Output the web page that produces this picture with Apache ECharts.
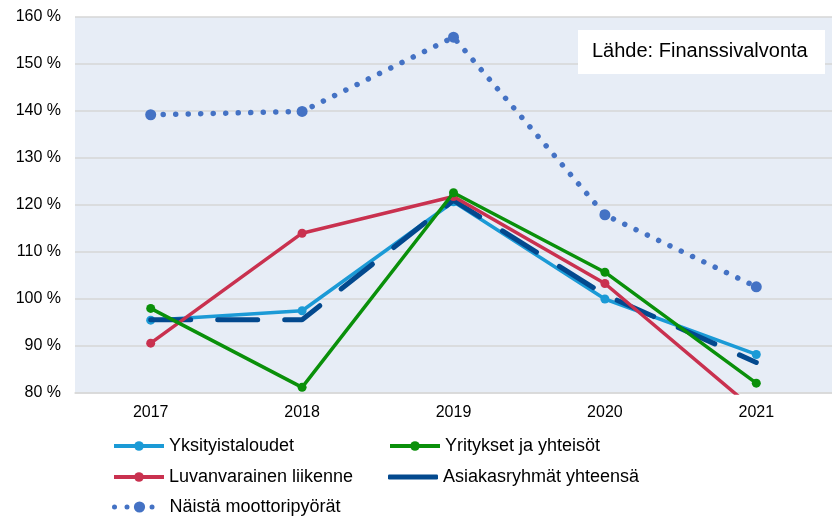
<!DOCTYPE html>
<html>
<head>
<meta charset="utf-8">
<script src="https://cdn.jsdelivr.net/npm/echarts@6/dist/echarts.min.js"></script>
<style>
  html, body { margin: 0; padding: 0; background: #fff; }
  #chart { width: 832px; height: 517px; }
</style>
</head>
<body>
<div id="chart"></div>
<script>
window.addEventListener('load', function () {

    // vuodet
    const years = ['2017', '2018', '2019', '2020', '2021'];

    // sarjat (%)
    const yksityis = [95.5, 97.5, 120.7, 100.0, 88.2];
    const yritykset = [98.0, 81.2, 122.6, 105.7, 82.1];
    const luvanvarainen = [90.6, 114.0, 121.8, 103.3, 76.1];
    const yhteensa = [95.6, 95.6, 121.0, 100.9, 86.5];
    const moottoripyorat = [139.2, 139.9, 155.7, 117.9, 102.6];

    const names = ['Yksityistaloudet', 'Yritykset ja yhteisöt', 'Luvanvarainen liikenne',
        'Asiakasryhmät yhteensä', 'Näistä moottoripyörät'];
    const colors = ['#1b9ad6', '#0a900a', '#c9314f', '#03498e', '#4472c4'];

    let myChart = echarts.init(document.querySelector('#chart'));

    const font = 'Arial, "Liberation Sans", sans-serif';

    // legenda: yksi komponentti per rivi/sarake
    function legendItem(name, left, top, lineWidth, itemHeight, icon) {
        let l = {
            data: [name],
            left: left,
            top: top,
            orient: 'horizontal',
            itemWidth: 50,
            itemHeight: itemHeight,
            itemGap: 0,
            padding: 0,
            selectedMode: false,
            lineStyle: { width: lineWidth },
            textStyle: { fontSize: 18, color: '#000', fontFamily: font }
        };
        if (icon) l.icon = icon;
        return l;
    }

    let option = {
        backgroundColor: '#fff',
        animation: false,
        grid: {
            left: 75,
            right: -11,
            top: 17,
            bottom: 124,
            show: true,
            backgroundColor: '#e7edf6',
            borderWidth: 0
        },
        legend: [
            legendItem(names[0], 112, 437, 4, 12),
            legendItem(names[1], 388, 437, 4, 12),
            legendItem(names[2], 112, 468, 4, 12),
            legendItem(names[3], 388, 468, 5, 5, 'roundRect'),
            legendItem(names[4], 112, 498, 5, 14)
        ],
        xAxis: {
            type: 'category',
            data: years,
            boundaryGap: true,
            axisTick: { show: false },
            axisLine: { show: true, lineStyle: { color: '#d9d9d9', width: 1.5 } },
            axisLabel: { color: '#000', fontSize: 16, fontFamily: font, margin: 12 }
        },
        yAxis: {
            type: 'value',
            min: 80,
            max: 160,
            interval: 10,
            axisLine: { show: false },
            axisTick: { show: false },
            splitLine: { lineStyle: { color: '#d6d6d6', width: 1.5 } },
            axisLabel: {
                color: '#000',
                fontSize: 16,
                fontFamily: font,
                margin: 14,
                formatter: '{value} %'
            }
        },
        graphic: [{
            type: 'rect',
            left: 578,
            top: 30,
            z: 100,
            shape: { width: 247, height: 44 },
            style: { fill: '#fff' }
        }, {
            type: 'text',
            left: 592,
            top: 41,
            z: 101,
            style: {
                text: 'Lähde: Finanssivalvonta',
                fill: '#000',
                font: '20px Arial, "Liberation Sans", sans-serif'
            }
        }],
        series: [{
            name: names[0],
            type: 'line',
            data: yksityis,
            color: colors[0],
            symbol: 'circle',
            symbolSize: 9,
            lineStyle: { width: 3.5 },
            z: 2
        }, {
            name: names[3],
            type: 'line',
            data: yhteensa,
            color: colors[3],
            symbol: 'none',
            lineStyle: { width: 5, type: [40, 27], cap: 'round' },
            z: 3
        }, {
            name: names[2],
            type: 'line',
            data: luvanvarainen,
            color: colors[2],
            symbol: 'circle',
            symbolSize: 9,
            lineStyle: { width: 3.5 },
            z: 4
        }, {
            name: names[1],
            type: 'line',
            data: yritykset,
            color: colors[1],
            symbol: 'circle',
            symbolSize: 9,
            lineStyle: { width: 3.5 },
            z: 5
        }, {
            name: names[4],
            type: 'line',
            data: moottoripyorat,
            color: colors[4],
            symbol: 'circle',
            symbolSize: 11,
            lineStyle: { width: 5.5, type: [0.01, 12.5], cap: 'round' },
            z: 6
        }]
    };

    myChart.setOption(option);
});
</script>
</body>
</html>
